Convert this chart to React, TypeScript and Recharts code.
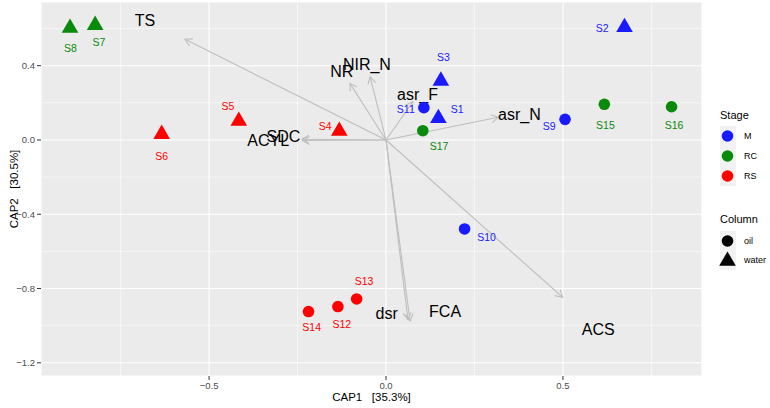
import React from 'react';
import {
  ScatterChart,
  Scatter,
  XAxis,
  YAxis,
  CartesianGrid,
  ReferenceLine,
} from 'recharts';

// sample scores (CAP1, CAP2)
const samples = ['S1', 'S2', 'S3', 'S4', 'S5', 'S6', 'S7', 'S8', 'S9', 'S10', 'S11', 'S12', 'S13', 'S14', 'S15', 'S16', 'S17'];
const cap1 = [0.148, 0.674, 0.155, -0.132, -0.416, -0.634, -0.822, -0.893, 0.506, 0.222, 0.107, -0.136, -0.083, -0.219, 0.617, 0.807, 0.104];
const cap2 = [0.117, 0.607, 0.318, 0.048, 0.102, 0.031, 0.618, 0.603, 0.111, -0.479, 0.174, -0.897, -0.856, -0.924, 0.192, 0.179, 0.05];
const stage = ['M', 'M', 'M', 'RS', 'RS', 'RS', 'RC', 'RC', 'M', 'M', 'M', 'RS', 'RS', 'RS', 'RC', 'RC', 'RC'];
const column = ['water', 'water', 'water', 'water', 'water', 'water', 'water', 'water', 'oil', 'oil', 'oil', 'oil', 'oil', 'oil', 'oil', 'oil', 'oil'];
// where the sample labels were placed (repelled)
const labelX = [0.201, 0.611, 0.162, -0.172, -0.447, -0.634, -0.811, -0.892, 0.461, 0.284, 0.056, -0.125, -0.062, -0.21, 0.62, 0.814, 0.15];
const labelY = [0.167, 0.603, 0.445, 0.075, 0.183, -0.086, 0.529, 0.494, 0.075, -0.521, 0.165, -0.991, -0.758, -1.009, 0.079, 0.083, -0.031];

// environmental vectors
const vectors = ['TS', 'NR', 'NIR_N', 'asr_F', 'asr_N', 'SDC', 'ACYL', 'ACS', 'FCA', 'dsr'];
const vecX = [-0.568, -0.102, -0.045, 0.076, 0.317, -0.238, -0.236, 0.499, 0.068, 0.062];
const vecY = [0.542, 0.305, 0.34, 0.206, 0.122, 0.004, -0.003, -0.847, -0.975, -0.968];
const vecLabelX = [-0.681, -0.125, -0.054, 0.089, 0.377, -0.29, -0.333, 0.6, 0.167, 0.002];
const vecLabelY = [0.646, 0.368, 0.408, 0.246, 0.138, 0.018, -0.004, -1.018, -0.925, -0.937];

const xTicks = [-0.5, 0, 0.5];
const yTicks = [-1.2, -0.8, -0.4, 0, 0.4];
const xMinor = [-0.75, -0.25, 0.25, 0.75];
const yMinor = [-1.0, -0.6, -0.2, 0.2, 0.6];

const stageColors: Record<string, string> = { M: '#1a1aff', RC: '#0a8a0a', RS: '#ff0000' };
const FONT = '"Liberation Sans", Arial, sans-serif';

const points = samples.map((s, i) => ({ name: s, x: cap1[i], y: cap2[i], stage: stage[i], column: column[i] }));
const pointLabels = samples.map((s, i) => ({ name: s, x: labelX[i], y: labelY[i], stage: stage[i] }));
const vecLabels = vectors.map((v, i) => ({ name: v, x: vecLabelX[i], y: vecLabelY[i] }));

const fmt = (v: number) => v.toFixed(1).replace('-', '\u2212');

function triangle(cx: number, cy: number, r: number) {
  const h = r * 0.866;
  return `${cx},${cy - r} ${cx + h},${cy + r / 2} ${cx - h},${cy + r / 2}`;
}

const PointShape = (p: any) => {
  const c = stageColors[p.payload.stage];
  if (p.payload.column === 'oil') return <circle cx={p.cx} cy={p.cy} r={5.8} fill={c} />;
  return <polygon points={triangle(p.cx, p.cy, 9.6)} fill={c} />;
};

const PointLabel = (p: any) => (
  <text x={p.cx} y={p.cy} textAnchor="middle" dominantBaseline="central" fontSize={10.5}
    fontFamily={FONT} fill={stageColors[p.payload.stage]}>{p.payload.name}</text>
);

const VecLabel = (p: any) => (
  <text x={p.cx} y={p.cy} textAnchor="middle" dominantBaseline="central" fontSize={16}
    fontFamily={FONT} fill="#000">{p.payload.name}</text>
);

const ArrowShape = (p: any) => {
  const { x1, y1, x2, y2 } = p;
  const a = Math.atan2(y2 - y1, x2 - x1);
  const len = 8;
  const w = Math.PI / 6;
  const ax = x2 - len * Math.cos(a - w);
  const ay = y2 - len * Math.sin(a - w);
  const bx = x2 - len * Math.cos(a + w);
  const by = y2 - len * Math.sin(a + w);
  return (
    <g stroke="#bebebe" strokeWidth={1.1} fill="none">
      <line x1={x1} y1={y1} x2={x2} y2={y2} />
      <polyline points={`${ax},${ay} ${x2},${y2} ${bx},${by}`} />
    </g>
  );
};

const Legend = () => (
  <svg width={60} height={170} style={{ position: 'absolute', left: 710, top: 100 }}>
    <g fontFamily={FONT}>
      <text x={10} y={19} fontSize={11} fill="#000">Stage</text>
      <rect x={10} y={26} width={16} height={60} fill="#f2f2f2" />
      {['M', 'RC', 'RS'].map((s, i) => (
        <g key={s}>
          <circle cx={17.5} cy={36 + i * 20} r={5.8} fill={stageColors[s]} />
          <text x={34} y={36 + i * 20} dominantBaseline="central" fontSize={9} fill="#000">{s}</text>
        </g>
      ))}
      <text x={10} y={123} fontSize={11} fill="#000">Column</text>
      <rect x={10} y={131} width={16} height={39} fill="#f2f2f2" />
      <circle cx={17.5} cy={141} r={5.8} fill="#000" />
      <text x={34} y={141} dominantBaseline="central" fontSize={9} fill="#000">oil</text>
      <polygon points={triangle(17.5, 161, 9.6)} fill="#000" />
      <text x={34} y={160} dominantBaseline="central" fontSize={9} fill="#000">water</text>
    </g>
  </svg>
);

export default function App() {
  return (
    <div style={{ position: 'absolute', left: 0, top: 0, width: 770, height: 408, background: '#fff' }}>
      <ScatterChart width={770} height={408} margin={{ top: 2, right: 68, bottom: 0, left: 0 }}>
        <CartesianGrid stroke="#ffffff" strokeWidth={1.1} fill="#ebebeb" fillOpacity={1} />
        <XAxis
          type="number"
          dataKey="x"
          domain={[-0.975, 0.893]}
          ticks={xTicks}
          allowDataOverflow
          tickFormatter={fmt}
          axisLine={false}
          tickLine={{ stroke: '#333333' }}
          tickSize={4}
          tickMargin={2}
          height={32}
          tick={{ fontSize: 9.5, fill: '#4d4d4d', fontFamily: FONT }}
          label={(props: any) => {
            const vb = props.viewBox;
            return (
              <text x={vb.x + vb.width / 2} y={401} textAnchor="middle" fontSize={11.5}
                fontFamily={FONT} fill="#000" style={{ whiteSpace: 'pre' }}>{'CAP1   [35.3%]'}</text>
            );
          }}
        />
        <YAxis
          type="number"
          dataKey="y"
          domain={[-1.271, 0.743]}
          ticks={yTicks}
          allowDataOverflow
          tickFormatter={fmt}
          axisLine={false}
          tickLine={{ stroke: '#333333' }}
          tickSize={4}
          tickMargin={2}
          width={41}
          tick={{ fontSize: 9.5, fill: '#4d4d4d', fontFamily: FONT }}
          label={(props: any) => {
            const vb = props.viewBox;
            const cy = vb.y + vb.height / 2;
            return (
              <text x={14} y={cy} textAnchor="middle" dominantBaseline="central" fontSize={11.5}
                fontFamily={FONT} fill="#000" transform={`rotate(-90, 14, ${cy})`}
                style={{ whiteSpace: 'pre' }}>{'CAP2   [30.5%]'}</text>
            );
          }}
        />
        {xMinor.map((v) => (
          <ReferenceLine key={'xm' + v} x={v} stroke="#ffffff" strokeWidth={0.55} zIndex={-90} />
        ))}
        {yMinor.map((v) => (
          <ReferenceLine key={'ym' + v} y={v} stroke="#ffffff" strokeWidth={0.55} zIndex={-90} />
        ))}
        {vectors.map((v, i) => (
          <ReferenceLine
            key={v}
            segment={[{ x: 0, y: 0 }, { x: vecX[i], y: vecY[i] }]}
            shape={ArrowShape}
            zIndex={100}
          />
        ))}
        <Scatter data={vecLabels} shape={VecLabel} isAnimationActive={false} />
        <Scatter data={points} shape={PointShape} isAnimationActive={false} />
        <Scatter data={pointLabels} shape={PointLabel} isAnimationActive={false} />
      </ScatterChart>
      <Legend />
    </div>
  );
}
